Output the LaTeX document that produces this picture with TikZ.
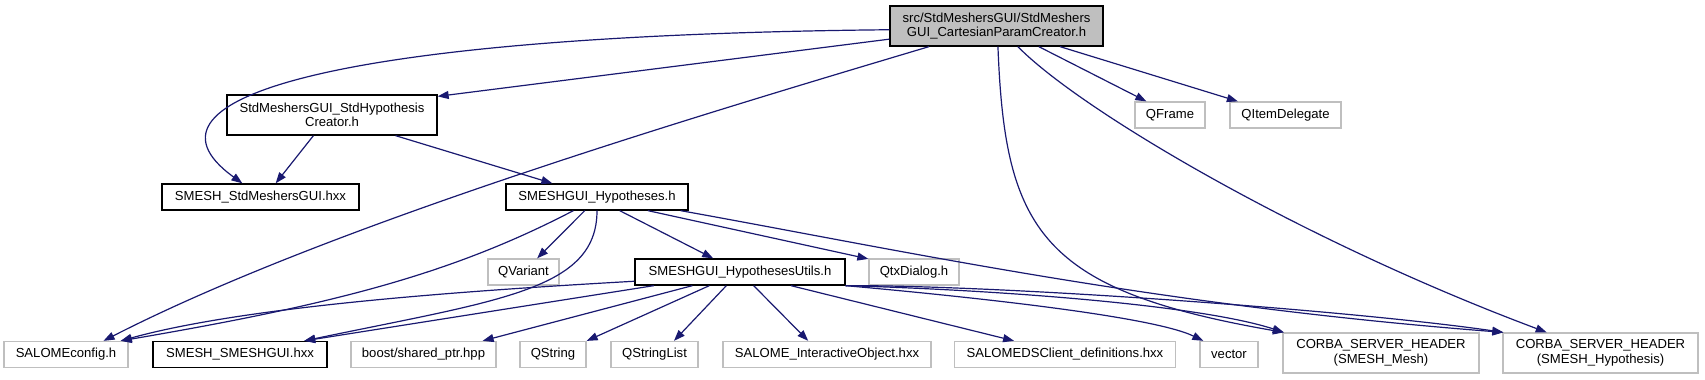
\documentclass[tikz,border=0pt]{standalone}
\usepackage{fontspec}
\setmainfont{Liberation Sans}
\usetikzlibrary{arrows.meta}
\definecolor{edgeblue}{HTML}{191970}
\definecolor{boxgray}{HTML}{BFBFBF}

\begin{document}
\begin{tikzpicture}[x=1pt, y=-1pt,
  font=\fontsize{13.1}{14.5}\selectfont,
  file/.style={draw=black, line width=1.3pt, inner sep=0pt, minimum height=26pt, align=center},
  ext/.style={file, draw=boxgray},
  dep/.style={draw=edgeblue, line width=1.2pt, -{Triangle[length=11pt,width=8pt]}}]
  \useasboundingbox (0,0) rectangle (1705,380);

  \node[file, fill=boxgray, minimum width=213pt, minimum height=40pt] (root) at (996.5,26) {src/StdMeshersGUI/StdMeshers\\GUI\_CartesianParamCreator.h};
  \node[file, minimum width=210pt, minimum height=40pt] (creator) at (332,115) {StdMeshersGUI\_StdHypothesis\\Creator.h};
  \node[ext, minimum width=70pt] (qframe) at (1170,115) {QFrame};
  \node[ext, minimum width=111pt] (qitem) at (1285.5,115) {QItemDelegate};
  \node[file, minimum width=197pt] (stdgui) at (260.5,197) {SMESH\_StdMeshersGUI.hxx};
  \node[file, minimum width=182pt] (hyp) at (597,197) {SMESHGUI\_Hypotheses.h};
  \node[ext, minimum width=71pt] (qvariant) at (523.5,272) {QVariant};
  \node[file, minimum width=210pt] (utils) at (740,272) {SMESHGUI\_HypothesesUtils.h};
  \node[ext, minimum width=90pt] (qtx) at (914,272) {QtxDialog.h};
  \node[ext, minimum width=124pt] (salcfg) at (66,354.5) {SALOMEconfig.h};
  \node[file, minimum width=174pt] (smeshgui) at (240,354.5) {SMESH\_SMESHGUI.hxx};
  \node[ext, minimum width=145pt] (boost) at (423.5,354.5) {boost/shared\_ptr.hpp};
  \node[ext, minimum width=66pt] (qstring) at (553,354.5) {QString};
  \node[ext, minimum width=87pt] (qstrlist) at (654.5,354.5) {QStringList};
  \node[ext, minimum width=208pt] (salio) at (827,354.5) {SALOME\_InteractiveObject.hxx};
  \node[ext, minimum width=221pt] (salds) at (1065,354.5) {SALOMEDSClient\_definitions.hxx};
  \node[ext, minimum width=58pt] (vector) at (1229,354.5) {vector};
  \node[ext, minimum width=196pt, minimum height=40pt] (corbamesh) at (1381,353) {CORBA\_SERVER\_HEADER\\(SMESH\_Mesh)};
  \node[ext, minimum width=195pt, minimum height=40pt] (corbahyp) at (1600.5,353) {CORBA\_SERVER\_HEADER\\(SMESH\_Hypothesis)};

  \draw[dep] (root.182) .. controls (350,35) and (120,95) .. (stdgui.143);
  \draw[dep] (root.187) -- (creator.10);
  \draw[dep] (root.197) .. controls (700,115) and (330,225) .. (salcfg.20);
  \draw[dep] (root.274) .. controls (1005,230) and (1040,290) .. (corbamesh.168);
  \draw[dep] (root.316) .. controls (1080,110) and (1300,240) .. (corbahyp.159);
  \draw[dep] (root.334) -- (qframe.150);
  \draw[dep] (root.342) -- (qitem.164);
  \draw[dep] (creator.228) -- (stdgui.42);
  \draw[dep] (creator.342) -- (hyp.163);
  \draw[dep] (hyp.210) .. controls (450,275) and (330,305) .. (salcfg.14);
  \draw[dep] (hyp.228) -- (qvariant.45);
  \draw[dep] (hyp.270) .. controls (597,290) and (500,300) .. (smeshgui.12);
  \draw[dep] (hyp.329) -- (utils.153);
  \draw[dep] (hyp.345) -- (qtx.164);
  \draw[dep] ([xshift=-8pt]hyp.south east) .. controls (900,250) and (1150,305) .. (corbahyp.168);
  \draw[dep] (utils.185) .. controls (480,290) and (250,305) .. (salcfg.14);
  \draw[dep] (utils.189) -- (smeshgui.12);
  \draw[dep] (utils.196) -- (boost.13);
  \draw[dep] (utils.204) -- (qstring.22);
  \draw[dep] (utils.225) -- (qstrlist.35);
  \draw[dep] (utils.315) -- (salio.144);
  \draw[dep] (utils.345) -- (salds.165);
  \draw[dep] (utils.south east) .. controls (950,295) and (1150,315) .. (vector.152);
  \draw[dep] (utils.south east) .. controls (1000,290) and (1200,305) .. (corbamesh.168);
  \draw[dep] (utils.south east) .. controls (1000,285) and (1350,310) .. (corbahyp.168);
\end{tikzpicture}
\end{document}
